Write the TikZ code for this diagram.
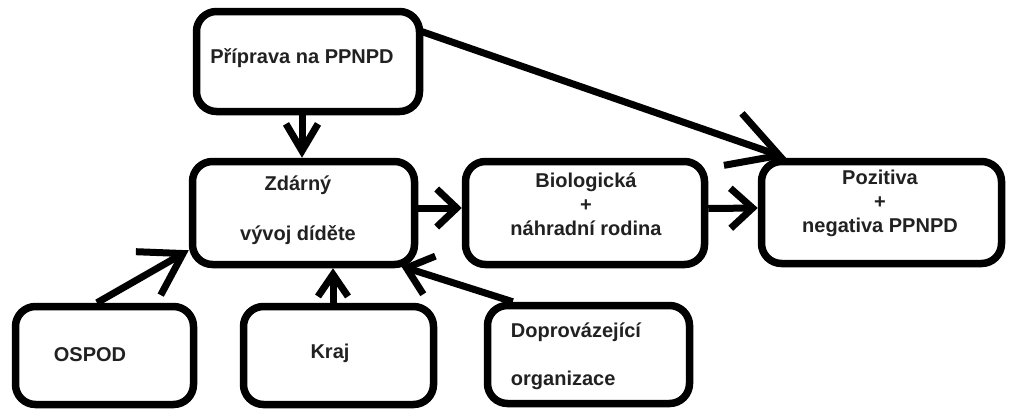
\documentclass[tikz,border=0pt]{standalone}
\usepackage{fontspec}
\setmainfont{Liberation Sans}
\usetikzlibrary{arrows.meta}
\begin{document}
\begin{tikzpicture}[x=1pt,y=-1pt,
  box/.style={draw=black, line width=7.5pt, rounded corners=20pt, fill=white, inner sep=0pt},
  txt/.style={text=black!87, font=\bfseries\fontsize{20}{24}\selectfont, inner sep=0pt, align=center},
  con/.style={line width=7pt, draw=black}]
\useasboundingbox (0,0) rectangle (1009,410);
\fill[white] (0,0) rectangle (1009,410);
% boxes
\node[box, minimum width=223pt, minimum height=100pt] (prip) at (308,61.5) {};
\node[box, minimum width=222pt, minimum height=103pt] (zd) at (303.5,213) {};
\node[box, minimum width=239pt, minimum height=103pt] (bio) at (585,213) {};
\node[box, minimum width=240pt, minimum height=102pt] (poz) at (881.5,212.5) {};
\node[box, minimum width=178pt, minimum height=98pt] (ospod) at (104.5,355.5) {};
\node[box, minimum width=190pt, minimum height=98pt] (kraj) at (338.5,355.5) {};
\node[box, minimum width=202pt, minimum height=98pt] (dop) at (588.5,354.5) {};
% texts
\node[txt] (priptext) at (302,58) {Příprava na PPNPD};
\node[txt] (zdtext) at (298,210) {Zdárný\\[26pt]vývoj díděte};
\node[txt] (biotext) at (586,204) {Biologická\\+\\náhradní rodina};
\node[txt] (poztext) at (880,203) {Pozitiva\\+\\negativa PPNPD};
\node[txt] (ospodtext) at (90,355) {OSPOD};
\node[txt] (krajtext) at (330,353) {Kraj};
\node[txt, align=left] (doptext) at (576,356) {Doprovázející\\[24pt]organizace};
% connectors
\draw[con, -{Straight Barb[length=27pt,width=32pt]}] ([xshift=-6pt]prip.south) -- ([xshift=-1.5pt]zd.north);
\draw[con, -{Straight Barb[length=49pt,width=55pt]}] ([xshift=-6pt,yshift=31.5pt]prip.east) -- ([xshift=-95.5pt]poz.north);
\draw[con, -{Straight Barb[length=20pt,width=38pt]}] ([yshift=5pt]zd.east) -- ([yshift=5pt]bio.west);
\draw[con, -{Straight Barb[length=22pt,width=40pt]}] ([yshift=4.5pt]bio.east) -- ([yshift=4.5pt]poz.west);
\draw[con, -{Straight Barb[length=40pt,width=50pt]}] ([xshift=-7.5pt]ospod.north) -- ([yshift=18pt]zd.south west);
\draw[con, -{Straight Barb[length=22pt,width=30pt]}] ([xshift=-5.5pt]kraj.north) -- ([xshift=29.5pt]zd.south);
\draw[con, -{Straight Barb[length=24pt,width=40pt]}] ([xshift=29pt]dop.north west) -- ([xshift=-17pt,yshift=2pt]zd.south east);
\end{tikzpicture}
\end{document}
